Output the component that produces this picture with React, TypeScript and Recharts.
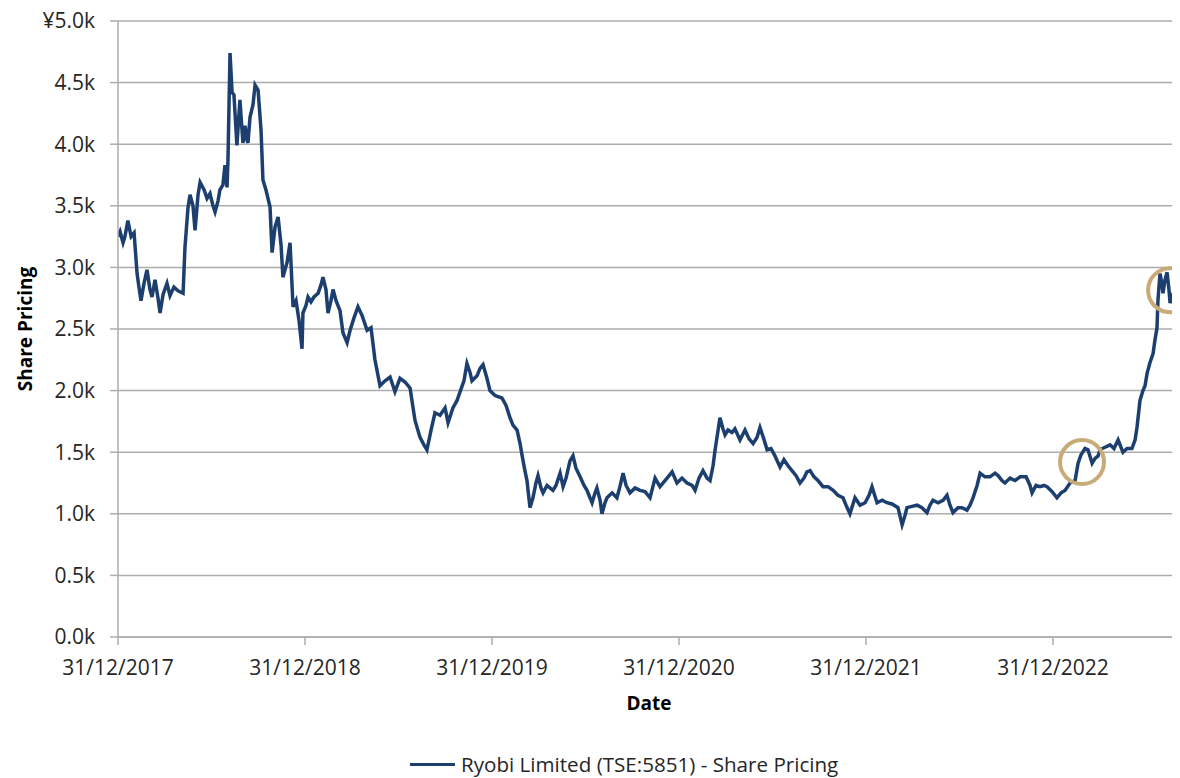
import {
  LineChart,
  Line,
  XAxis,
  YAxis,
  CartesianGrid,
  Legend,
  ReferenceDot,
  Label,
} from "recharts";

// decimal years (2018.0 = 31/12/2017) and share price in yen
const years = [
  2018.0, 2018.011, 2018.027, 2018.037, 2018.053, 2018.07, 2018.086, 2018.102, 2018.112, 2018.123,
  2018.139, 2018.155, 2018.171, 2018.182, 2018.198, 2018.214, 2018.225, 2018.241, 2018.262, 2018.278,
  2018.299, 2018.321, 2018.348, 2018.358, 2018.374, 2018.385, 2018.401, 2018.412, 2018.428, 2018.439,
  2018.46, 2018.476, 2018.492, 2018.508, 2018.519, 2018.535, 2018.545, 2018.561, 2018.572, 2018.583,
  2018.588, 2018.599, 2018.61, 2018.62, 2018.636, 2018.652, 2018.668, 2018.679, 2018.69, 2018.695,
  2018.706, 2018.722, 2018.733, 2018.749, 2018.765, 2018.775, 2018.791, 2018.813, 2018.824, 2018.84,
  2018.856, 2018.872, 2018.882, 2018.904, 2018.92, 2018.936, 2018.952, 2018.968, 2018.984, 2018.989,
  2019.005, 2019.016, 2019.032, 2019.048, 2019.07, 2019.086, 2019.096, 2019.112, 2019.123, 2019.139,
  2019.15, 2019.166, 2019.187, 2019.203, 2019.225, 2019.241, 2019.262, 2019.283, 2019.305, 2019.332,
  2019.353, 2019.374, 2019.401, 2019.428, 2019.455, 2019.481, 2019.508, 2019.535, 2019.562, 2019.588,
  2019.615, 2019.636, 2019.652, 2019.674, 2019.695, 2019.722, 2019.749, 2019.765, 2019.791, 2019.813,
  2019.829, 2019.85, 2019.866, 2019.882, 2019.893, 2019.92, 2019.936, 2019.952, 2019.973, 2019.989,
  2020.016, 2020.053, 2020.075, 2020.096, 2020.112, 2020.134, 2020.15, 2020.16, 2020.176, 2020.187,
  2020.203, 2020.219, 2020.235, 2020.246, 2020.262, 2020.273, 2020.294, 2020.31, 2020.326, 2020.342,
  2020.364, 2020.38, 2020.396, 2020.417, 2020.433, 2020.449, 2020.471, 2020.492, 2020.508, 2020.524,
  2020.535, 2020.551, 2020.561, 2020.578, 2020.588, 2020.604, 2020.615, 2020.642, 2020.668, 2020.684,
  2020.701, 2020.717, 2020.738, 2020.765, 2020.791, 2020.818, 2020.845, 2020.872, 2020.898, 2020.925,
  2020.947, 2020.963, 2020.989, 2021.016, 2021.043, 2021.07, 2021.086, 2021.107, 2021.128, 2021.15,
  2021.166, 2021.182, 2021.193, 2021.209, 2021.219, 2021.235, 2021.246, 2021.262, 2021.283, 2021.299,
  2021.326, 2021.353, 2021.374, 2021.396, 2021.417, 2021.433, 2021.455, 2021.471, 2021.492, 2021.513,
  2021.54, 2021.561, 2021.583, 2021.604, 2021.626, 2021.647, 2021.668, 2021.684, 2021.701, 2021.722,
  2021.743, 2021.77, 2021.797, 2021.824, 2021.85, 2021.877, 2021.893, 2021.914, 2021.941, 2021.968,
  2021.995, 2022.016, 2022.032, 2022.059, 2022.086, 2022.112, 2022.139, 2022.171, 2022.193, 2022.209,
  2022.219, 2022.246, 2022.273, 2022.299, 2022.326, 2022.342, 2022.358, 2022.385, 2022.412, 2022.433,
  2022.449, 2022.465, 2022.492, 2022.513, 2022.54, 2022.556, 2022.572, 2022.594, 2022.61, 2022.636,
  2022.663, 2022.69, 2022.706, 2022.727, 2022.743, 2022.77, 2022.797, 2022.824, 2022.856, 2022.877,
  2022.888, 2022.909, 2022.93, 2022.952, 2022.968, 2022.995, 2023.021, 2023.043, 2023.064, 2023.091,
  2023.118, 2023.134, 2023.15, 2023.171, 2023.187, 2023.209, 2023.225, 2023.241, 2023.251, 2023.278,
  2023.305, 2023.326, 2023.348, 2023.374, 2023.396, 2023.422, 2023.439, 2023.449, 2023.465, 2023.481,
  2023.492, 2023.503, 2023.519, 2023.535, 2023.545, 2023.556, 2023.561, 2023.572, 2023.583, 2023.588,
  2023.599, 2023.61, 2023.62, 2023.626, 2023.636, 2023.652, 2023.668, 2023.679,
];

const prices = [
  3250, 3290, 3200, 3250, 3380, 3250, 3280, 2950, 2840, 2730,
  2870, 2980, 2820, 2760, 2900, 2750, 2630, 2780, 2870, 2770,
  2840, 2810, 2790, 3160, 3480, 3590, 3500, 3300, 3590, 3690,
  3630, 3560, 3600, 3500, 3450, 3540, 3630, 3670, 3830, 3650,
  3870, 4740, 4420, 4400, 3990, 4360, 4010, 4150, 4030, 4010,
  4220, 4320, 4480, 4440, 4110, 3710, 3630, 3490, 3120, 3330,
  3410, 3180, 2920, 3040, 3200, 2680, 2730, 2570, 2340, 2630,
  2690, 2760, 2720, 2760, 2790, 2860, 2920, 2820, 2630, 2730,
  2820, 2730, 2650, 2470, 2390, 2490, 2590, 2680, 2610, 2490,
  2510, 2250, 2040, 2080, 2110, 1990, 2100, 2070, 2020, 1760,
  1620, 1560, 1520, 1680, 1820, 1800, 1860, 1740, 1860, 1920,
  1990, 2080, 2220, 2150, 2080, 2120, 2180, 2210, 2100, 2000,
  1960, 1940, 1880, 1780, 1720, 1680, 1570, 1480, 1350, 1270,
  1050, 1130, 1250, 1310, 1210, 1170, 1230, 1210, 1190, 1230,
  1330, 1220, 1290, 1430, 1470, 1370, 1300, 1230, 1190, 1130,
  1090, 1170, 1210, 1110, 1000, 1090, 1130, 1170, 1130, 1220,
  1330, 1230, 1170, 1210, 1190, 1180, 1130, 1290, 1220, 1270,
  1310, 1340, 1250, 1290, 1250, 1230, 1190, 1290, 1350, 1290,
  1270, 1390, 1520, 1680, 1780, 1690, 1640, 1680, 1660, 1690,
  1600, 1680, 1610, 1570, 1620, 1700, 1600, 1520, 1530, 1470,
  1380, 1440, 1390, 1350, 1310, 1250, 1290, 1340, 1350, 1300,
  1270, 1220, 1220, 1190, 1150, 1130, 1070, 1000, 1130, 1070,
  1090, 1150, 1220, 1090, 1110, 1090, 1080, 1050, 910, 990,
  1050, 1060, 1070, 1050, 1010, 1070, 1110, 1090, 1110, 1150,
  1070, 1010, 1050, 1050, 1030, 1070, 1130, 1230, 1330, 1300,
  1300, 1330, 1310, 1270, 1250, 1290, 1270, 1300, 1300, 1230,
  1170, 1230, 1220, 1230, 1220, 1180, 1130, 1170, 1190, 1250,
  1270, 1410, 1480, 1530, 1520, 1410, 1450, 1470, 1520, 1540,
  1560, 1530, 1600, 1500, 1530, 1530, 1600, 1700, 1920, 2000,
  2040, 2140, 2230, 2300, 2410, 2510, 2730, 2950, 2860, 2790,
  2900, 2960, 2820, 2710, 2770, 2820, 2900, 3060,
];

const xTicks = [2018, 2019, 2020, 2021, 2022, 2023];
const yTicks = [0, 500, 1000, 1500, 2000, 2500, 3000, 3500, 4000, 4500, 5000];

// circled points
const circleYears = [2023.155, 2023.626];
const circlePrices = [1420, 2815];

const seriesName = "Ryobi Limited (TSE:5851) - Share Pricing";

const data = years.map((year, i) => ({ year, price: prices[i] }));

const NAVY = "#1C3F6F";
const GRID = "#ADADAD";
const FONT = "'Open Sans', sans-serif";

const LegendBox = () => (
  <div style={{ position: "relative", height: 61, fontFamily: FONT }}>
    <div
      style={{
        position: "absolute",
        left: 402,
        top: 34,
        display: "flex",
        alignItems: "center",
        whiteSpace: "nowrap",
        lineHeight: "26px",
      }}
    >
      <span style={{ display: "inline-block", width: 45, height: 3, background: NAVY, marginRight: 6 }} />
      <span style={{ fontSize: 20.6, color: "#262626" }}>{seriesName}</span>
    </div>
  </div>
);

export default function App() {
  // pull the svg up over the body margin so the top tick label has room
  return (
    <div style={{ marginTop: -8 }}>
      <LineChart
        width={1172}
        height={778}
        data={data}
        margin={{ top: 21, right: 0, bottom: 0, left: 0 }}
        style={{ fontFamily: FONT }}
      >
        <CartesianGrid vertical={false} stroke={GRID} strokeWidth={1.5} />
        <XAxis
          dataKey="year"
          type="number"
          domain={[2018, 2023.679]}
          ticks={xTicks}
          allowDataOverflow
          tickFormatter={(v: number) => `31/12/${v - 1}`}
          height={80}
          stroke={GRID}
          strokeWidth={1.5}
          tickSize={8}
          tickMargin={15}
          tick={{ fill: "#262626", fontSize: 21 }}
        >
          <Label
            value="Date"
            position="insideBottom"
            offset={7}
            style={{ fontWeight: 700, fontSize: 19, fill: "#000" }}
          />
        </XAxis>
        <YAxis
          domain={[0, 5000]}
          ticks={yTicks}
          width={110}
          stroke={GRID}
          strokeWidth={1.5}
          tickSize={8}
          tickMargin={15}
          tick={{ fill: "#262626", fontSize: 21 }}
          tickFormatter={(v: number) => (v === 5000 ? "¥5.0k" : `${(v / 1000).toFixed(1)}k`)}
        >
          <Label
            value="Share Pricing"
            angle={-90}
            position="insideLeft"
            offset={17}
            style={{ fontWeight: 700, fontSize: 19, fill: "#000", textAnchor: "middle" }}
          />
        </YAxis>
        <Legend verticalAlign="bottom" content={() => <LegendBox />} />
        <Line
          type="linear"
          dataKey="price"
          name={seriesName}
          stroke={NAVY}
          strokeWidth={3.5}
          dot={false}
          isAnimationActive={false}
        />
        {circleYears.map((y, i) => (
          <ReferenceDot
            key={y}
            x={y}
            y={circlePrices[i]}
            r={22}
            fill="none"
            stroke="#C8AB78"
            strokeWidth={4}
            ifOverflow="visible"
          />
        ))}
      </LineChart>
    </div>
  );
}
